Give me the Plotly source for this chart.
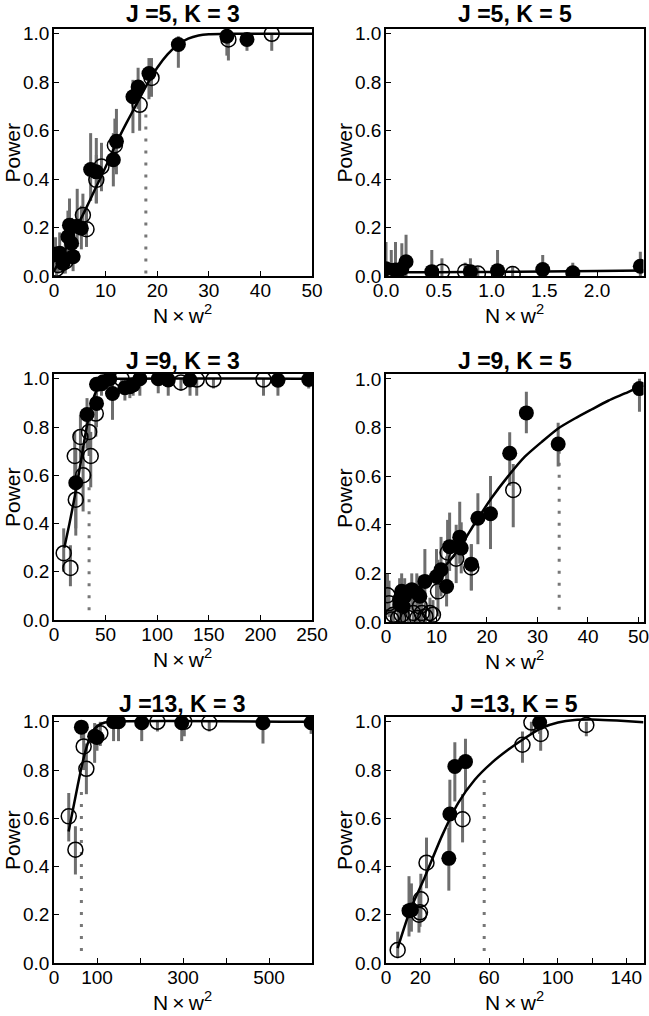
import plotly.graph_objects as go

W, H = 649, 1016
FONT = "Liberation Sans, Arial, Helvetica, sans-serif"
BAR_COLOR = "#6e6e6e"
DOT_COLOR = "#777777"

# ---------------- Panel 1: J=5, K=3 ----------------
p1_title = "J =5, K = 3"
p1_filled_x = [24.1, 33.5, 37.4, 18.4, 16.3, 15.3, 12.1, 11.5, 7.1, 8.2, 3.0, 4.5, 5.3, 2.7, 3.4, 3.7, 1.1, 1.75, 0.3]
p1_filled_y = [0.956, 0.99, 0.977, 0.836, 0.78, 0.74, 0.556, 0.48, 0.44, 0.43, 0.21, 0.205, 0.197, 0.162, 0.135, 0.08, 0.094, 0.052, 0.09]
p1_filled_lo = [0.86, 0.91, 0.93, 0.73, 0.69, 0.59, 0.42, 0.37, 0.31, 0.30, 0.11, 0.12, 0.11, 0.07, 0.05, 0.02, 0.03, 0.01, 0.03]
p1_filled_hi = [0.99, 1.0, 1.0, 0.90, 0.86, 0.81, 0.69, 0.59, 0.59, 0.57, 0.32, 0.36, 0.29, 0.27, 0.24, 0.16, 0.18, 0.12, 0.16]
p1_open_x = [42.2, 33.8, 18.9, 16.6, 11.8, 9.2, 8.2, 5.6, 6.3, 0.8, 0.5, 2.2]
p1_open_y = [1.0, 0.977, 0.818, 0.707, 0.54, 0.452, 0.397, 0.252, 0.193, 0.045, 0.03, 0.06]
p1_open_lo = [0.93, 0.89, 0.74, 0.60, 0.44, 0.35, 0.30, 0.17, 0.12, 0.01, 0.0, 0.01]
p1_open_hi = [1.0, 1.0, 0.90, 0.80, 0.65, 0.55, 0.50, 0.34, 0.28, 0.12, 0.10, 0.14]
p1_curve_x = [0, 2, 4, 6, 8, 10, 12, 14, 16, 18, 20, 22, 24, 26, 28, 30, 35, 40, 50]
p1_curve_y = [0.02, 0.10, 0.185, 0.27, 0.36, 0.45, 0.545, 0.63, 0.71, 0.79, 0.86, 0.915, 0.955, 0.98, 0.993, 0.998, 1.0, 1.0, 1.0]
p1_crit_x = 17.8
p1_crit_y = [0.01, 0.70]

# ---------------- Panel 2: J=5, K=5 ----------------
p2_title = "J =5, K = 5"
p2_filled_x = [0.0, 0.09, 0.15, 0.19, 0.434, 0.80, 1.057, 1.485, 1.77, 2.41]
p2_filled_y = [0.03, 0.025, 0.03, 0.059, 0.018, 0.018, 0.022, 0.027, 0.013, 0.04]
p2_filled_lo = [0.0, 0.0, 0.0, 0.0, 0.0, 0.0, 0.0, 0.0, 0.0, 0.0]
p2_filled_hi = [0.14, 0.14, 0.135, 0.17, 0.107, 0.073, 0.107, 0.087, 0.055, 0.10]
p2_open_x = [0.05, 0.53, 0.75, 0.87, 1.2]
p2_open_y = [0.02, 0.018, 0.018, 0.01, 0.008]
p2_open_lo = [0.0, 0.0, 0.0, 0.0, 0.0]
p2_open_hi = [0.107, 0.073, 0.055, 0.04, 0.04]
p2_curve_x = [0, 0.5, 1.0, 1.5, 2.0, 2.44]
p2_curve_y = [0.015, 0.016, 0.017, 0.019, 0.021, 0.023]
p2_crit_x = None
p2_crit_y = None

# ---------------- Panel 3: J=9, K=3 ----------------
p3_title = "J =9, K = 3"
p3_filled_x = [21.1, 32, 41.2, 41.2, 47.6, 54, 56.7, 68.7, 73.5, 76.7, 83.2, 101, 110.7, 131.8, 217, 246.8, 46]
p3_filled_y = [0.569, 0.852, 0.898, 0.977, 0.988, 1.0, 0.939, 0.963, 0.967, 0.975, 1.0, 1.0, 0.995, 0.995, 0.994, 0.997, 0.98]
p3_filled_lo = [0.35, 0.71, 0.80, 0.93, 0.95, 0.96, 0.83, 0.91, 0.92, 0.93, 0.93, 0.94, 0.93, 0.93, 0.93, 0.96, 0.93]
p3_filled_hi = [0.71, 0.92, 0.97, 1.0, 1.0, 1.0, 0.99, 1.0, 1.0, 1.0, 1.0, 1.0, 1.0, 1.0, 1.0, 1.0, 1.0]
p3_open_x = [9.4, 15.9, 21.1, 20.1, 25.6, 28.2, 34, 35.6, 40.5, 65.5, 123, 138.3, 154.5, 203]
p3_open_y = [0.277, 0.216, 0.499, 0.68, 0.759, 0.60, 0.78, 0.68, 0.856, 1.0, 0.985, 0.997, 0.997, 0.997]
p3_open_lo = [0.20, 0.14, 0.38, 0.58, 0.66, 0.45, 0.68, 0.55, 0.76, 0.94, 0.95, 0.93, 0.96, 0.93]
p3_open_hi = [0.38, 0.31, 0.62, 0.78, 0.85, 0.72, 0.88, 0.78, 0.93, 1.0, 1.0, 1.0, 1.0, 1.0]
p3_curve_x = [10, 15, 20, 25, 30, 35, 40, 45, 50, 60, 250]
p3_curve_y = [0.30, 0.40, 0.51, 0.63, 0.76, 0.87, 0.94, 0.98, 0.995, 1.0, 1.0]
p3_crit_x = 34
p3_crit_y = [0.04, 0.58]

# ---------------- Panel 4: J=9, K=5 ----------------
p4_title = "J =9, K = 5"
p4_filled_x = [50.2, 27.8, 34.1, 24.5, 20.7, 18.2, 16.9, 14.6, 14.9, 12.6, 10.9, 10.0, 12.0, 7.7, 3.1, 3.7, 5.1, 6.1, 6.7, 2.7, 2.8, 3.4]
p4_filled_y = [0.96, 0.86, 0.732, 0.694, 0.445, 0.427, 0.238, 0.349, 0.304, 0.31, 0.215, 0.187, 0.146, 0.167, 0.126, 0.105, 0.133, 0.12, 0.106, 0.093, 0.071, 0.064]
p4_filled_lo = [0.865, 0.776, 0.64, 0.56, 0.30, 0.32, 0.13, 0.24, 0.20, 0.21, 0.105, 0.09, 0.064, 0.078, 0.04, 0.03, 0.05, 0.04, 0.03, 0.02, 0.01, 0.0]
p4_filled_hi = [1.0, 0.947, 0.82, 0.78, 0.60, 0.53, 0.32, 0.495, 0.41, 0.45, 0.35, 0.30, 0.27, 0.30, 0.20, 0.18, 0.20, 0.20, 0.19, 0.18, 0.15, 0.14]
p4_open_x = [25.2, 16.9, 12.2, 13.9, 10.3, 0.3, 0.6, 1.45, 2.4, 5.4, 6.7, 7.1, 7.8, 8.7, 9.3, 4.4, 6.2, 3.1, 1.1]
p4_open_y = [0.543, 0.224, 0.286, 0.26, 0.126, 0.11, 0.077, 0.03, 0.016, 0.037, 0.064, 0.037, 0.023, 0.037, 0.03, 0.016, 0.016, 0.03, 0.01]
p4_open_lo = [0.39, 0.13, 0.17, 0.16, 0.023, 0.03, 0.02, 0.0, 0.0, 0.0, 0.01, 0.0, 0.0, 0.0, 0.0, 0.0, 0.0, 0.0, 0.0]
p4_open_hi = [0.65, 0.32, 0.42, 0.40, 0.256, 0.20, 0.17, 0.10, 0.08, 0.11, 0.15, 0.10, 0.08, 0.10, 0.09, 0.08, 0.08, 0.10, 0.06]
p4_curve_x = [2, 4.1, 7.7, 11, 14.3, 17.6, 20.9, 24.2, 27.5, 30.8, 34.1, 37.4, 40.7, 44, 47.3, 50.2, 51]
p4_curve_y = [0.07, 0.10, 0.16, 0.215, 0.297, 0.406, 0.51, 0.60, 0.68, 0.74, 0.796, 0.837, 0.874, 0.91, 0.94, 0.967, 0.972]
p4_crit_x = 34.3
p4_crit_y = [0.05, 0.72]

# ---------------- Panel 5: J=13, K=3 ----------------
p5_title = "J =13, K = 3"
p5_filled_x = [63.7, 94.5, 100, 138.5, 150, 204, 297, 486, 598]
p5_filled_y = [0.978, 0.94, 0.935, 1.0, 1.0, 0.996, 0.996, 0.996, 0.996]
p5_filled_lo = [0.93, 0.83, 0.88, 0.92, 0.92, 0.92, 0.92, 0.91, 0.95]
p5_filled_hi = [1.0, 0.995, 0.99, 1.0, 1.0, 1.0, 1.0, 1.0, 1.0]
p5_open_x = [34.3, 49.8, 69, 75.3, 107.7, 240.5, 303, 361]
p5_open_y = [0.608, 0.47, 0.898, 0.805, 0.953, 1.0, 1.0, 0.996]
p5_open_lo = [0.504, 0.367, 0.80, 0.70, 0.90, 0.96, 0.94, 0.96]
p5_open_hi = [0.705, 0.567, 0.97, 0.91, 1.0, 1.0, 1.0, 1.0]
p5_curve_x = [34, 45, 55, 65, 75, 85, 95, 110, 130, 600]
p5_curve_y = [0.545, 0.645, 0.735, 0.82, 0.89, 0.94, 0.972, 0.992, 1.0, 1.0]
p5_crit_x = 63.7
p5_crit_y = [0.05, 0.71]

# ---------------- Panel 6: J=13, K=5 ----------------
p6_title = "J =13, K = 5"
p6_filled_x = [13.4, 14.8, 36.6, 37.2, 40.1, 46.3, 89.5]
p6_filled_y = [0.217, 0.22, 0.434, 0.618, 0.815, 0.835, 0.997]
p6_filled_lo = [0.11, 0.13, 0.30, 0.45, 0.67, 0.71, 0.95]
p6_filled_hi = [0.36, 0.33, 0.56, 0.76, 0.915, 0.93, 1.0]
p6_open_x = [6.8, 19.2, 19.8, 20.3, 23.6, 44.6, 79.5, 84.7, 90.1, 116.7]
p6_open_y = [0.054, 0.2, 0.21, 0.264, 0.416, 0.596, 0.905, 0.997, 0.95, 0.987]
p6_open_lo = [0.02, 0.126, 0.15, 0.17, 0.31, 0.50, 0.83, 0.95, 0.88, 0.94]
p6_open_hi = [0.13, 0.29, 0.30, 0.37, 0.52, 0.70, 0.96, 1.0, 1.0, 1.0]
p6_curve_x = [6.8, 14.1, 22.7, 32.4, 42, 51.7, 61.4, 71.1, 80.8, 90.5, 100.2, 109.9, 119.6, 130, 139, 150]
p6_curve_y = [0.062, 0.22, 0.358, 0.524, 0.663, 0.76, 0.829, 0.884, 0.932, 0.974, 0.997, 1.008, 1.01, 1.007, 1.003, 0.998]
p6_crit_x = 57.2
p6_crit_y = [0.05, 0.77]

# axis ticks (labelled ticks; minor_dtick gives extra unlabelled tick marks)
y_tickvals = [0, 0.2, 0.4, 0.6, 0.8, 1.0]
y_ticktext = ["0.0", "0.2", "0.4", "0.6", "0.8", "1.0"]
x_ticks = [
    ([0, 10, 20, 30, 40, 50], ["0", "10", "20", "30", "40", "50"], None),
    ([0, 0.5, 1.0, 1.5, 2.0], ["0.0", "0.5", "1.0", "1.5", "2.0"], None),
    ([0, 50, 100, 150, 200, 250], ["0", "50", "100", "150", "200", "250"], None),
    ([0, 10, 20, 30, 40, 50], ["0", "10", "20", "30", "40", "50"], None),
    ([0, 100, 300, 500], ["0", "100", "300", "500"], 100),
    ([0, 20, 60, 100, 140], ["0", "20", "60", "100", "140"], 20),
]
x_ranges = [[0, 50], [0, 2.44], [0, 250], [0, 51], [0, 600], [0, 150]]

panels = [
    (p1_title, p1_filled_x, p1_filled_y, p1_filled_lo, p1_filled_hi, p1_open_x, p1_open_y, p1_open_lo, p1_open_hi, p1_curve_x, p1_curve_y, p1_crit_x, p1_crit_y),
    (p2_title, p2_filled_x, p2_filled_y, p2_filled_lo, p2_filled_hi, p2_open_x, p2_open_y, p2_open_lo, p2_open_hi, p2_curve_x, p2_curve_y, p2_crit_x, p2_crit_y),
    (p3_title, p3_filled_x, p3_filled_y, p3_filled_lo, p3_filled_hi, p3_open_x, p3_open_y, p3_open_lo, p3_open_hi, p3_curve_x, p3_curve_y, p3_crit_x, p3_crit_y),
    (p4_title, p4_filled_x, p4_filled_y, p4_filled_lo, p4_filled_hi, p4_open_x, p4_open_y, p4_open_lo, p4_open_hi, p4_curve_x, p4_curve_y, p4_crit_x, p4_crit_y),
    (p5_title, p5_filled_x, p5_filled_y, p5_filled_lo, p5_filled_hi, p5_open_x, p5_open_y, p5_open_lo, p5_open_hi, p5_curve_x, p5_curve_y, p5_crit_x, p5_crit_y),
    (p6_title, p6_filled_x, p6_filled_y, p6_filled_lo, p6_filled_hi, p6_open_x, p6_open_y, p6_open_lo, p6_open_hi, p6_curve_x, p6_curve_y, p6_crit_x, p6_crit_y),
]

# plot boxes in pixels: (left, right, top, bottom)
boxes = [
    (54, 312, 29, 276),
    (386, 643.5, 29, 276),
    (54, 312, 374, 620),
    (386, 643.5, 374, 622),
    (54, 312, 717, 963),
    (386, 643.5, 717, 963),
]

fig = go.Figure()
layout = {}
annotations = []

for i, (title, fx, fy, flo, fhi, ox, oy, olo, ohi, cx, cy, crx, cry) in enumerate(panels):
    n = "" if i == 0 else str(i + 1)
    xa, ya = "x" + n, "y" + n
    l, r, t, b = boxes[i]

    if crx is not None:
        fig.add_trace(go.Scatter(x=[crx, crx], y=cry, mode="lines",
                                 line=dict(color=DOT_COLOR, width=3, dash="3px,9px"),
                                 xaxis=xa, yaxis=ya, showlegend=False, hoverinfo="skip"))
    ex = list(ox) + list(fx)
    ey = list(oy) + list(fy)
    elo = list(olo) + list(flo)
    ehi = list(ohi) + list(fhi)
    fig.add_trace(go.Scatter(x=ex, y=ey, mode="markers",
                             marker=dict(size=1, opacity=0),
                             error_y=dict(type="data", symmetric=False,
                                          array=[h - y for h, y in zip(ehi, ey)],
                                          arrayminus=[y - lo for y, lo in zip(ey, elo)],
                                          width=0, thickness=3, color=BAR_COLOR),
                             xaxis=xa, yaxis=ya, showlegend=False, hoverinfo="skip"))
    fig.add_trace(go.Scatter(x=cx, y=cy, mode="lines",
                             line=dict(color="black", width=2.5, shape="spline", smoothing=0.6),
                             xaxis=xa, yaxis=ya, showlegend=False))
    fig.add_trace(go.Scatter(x=ox, y=oy, mode="markers",
                             marker=dict(symbol="circle-open", size=15, color="black",
                                         line=dict(width=1.5)),
                             xaxis=xa, yaxis=ya, showlegend=False))
    fig.add_trace(go.Scatter(x=fx, y=fy, mode="markers",
                             marker=dict(symbol="circle", size=15, color="black"),
                             xaxis=xa, yaxis=ya, showlegend=False))

    tv, tt, minor_dtick = x_ticks[i]
    axis_common = dict(showline=True, linecolor="black", linewidth=1.5, mirror=True,
                       ticks="inside", ticklen=5, tickwidth=1.2, tickcolor="black",
                       showgrid=False, zeroline=False, automargin=False,
                       ticklabeloverflow="allow",
                       tickfont=dict(family=FONT, size=19, color="black"))
    xdict = dict(domain=[l / W, r / W], range=x_ranges[i], tickmode="array",
                 tickvals=tv, ticktext=tt, anchor=ya, ticklabelstandoff=-4, **axis_common)
    if minor_dtick is not None:
        xdict["minor"] = dict(dtick=minor_dtick, tick0=0, ticks="inside", ticklen=5,
                              tickwidth=1.2, tickcolor="black", showgrid=False)
    layout["xaxis" + n] = xdict
    layout["yaxis" + n] = dict(domain=[1 - b / H, 1 - t / H], range=[0, 1.02], tickmode="array",
                               tickvals=y_tickvals, ticktext=y_ticktext, anchor=xa,
                               ticklabelstandoff=-1, **axis_common)

    cxp = (l + r) / 2
    title_y = t - 13 if i >= 2 else 14
    annotations.append(dict(text="<b>" + title + "</b>", x=cxp / W, y=1 - title_y / H,
                            xref="paper", yref="paper", showarrow=False,
                            xanchor="center", yanchor="middle",
                            font=dict(family=FONT, size=23, color="black")))
    annotations.append(dict(text="Power", x=(l - 42) / W, y=1 - ((t + b) / 2) / H,
                            xref="paper", yref="paper", showarrow=False, textangle=-90,
                            xanchor="center", yanchor="middle",
                            font=dict(family=FONT, size=21, color="black")))
    annotations.append(dict(text="N\u2009\u00d7\u2009w<sup>2</sup>", x=cxp / W, y=1 - (b + 38) / H,
                            xref="paper", yref="paper", showarrow=False,
                            xanchor="center", yanchor="middle",
                            font=dict(family=FONT, size=21, color="black")))

fig.update_layout(template="none", width=W, height=H, margin=dict(l=0, r=0, t=0, b=0, pad=0),
                  paper_bgcolor="white", plot_bgcolor="white", showlegend=False,
                  annotations=annotations, **layout)

fig.write_html("out.html", config={"displayModeBar": False},
               post_script="document.body.style.margin='0';document.body.style.overflow='hidden';")
